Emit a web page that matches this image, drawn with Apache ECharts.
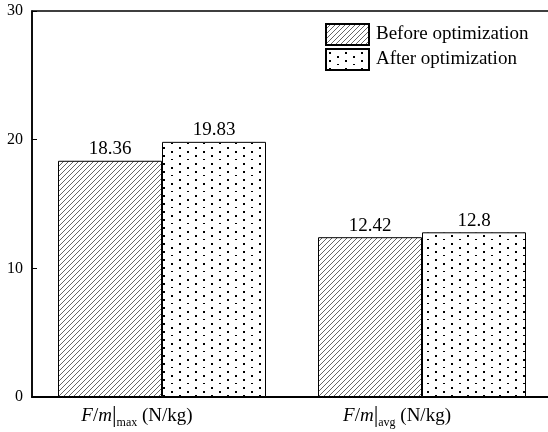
<!DOCTYPE html>
<html>
<head>
<meta charset="utf-8">
<script src="https://cdn.jsdelivr.net/npm/echarts@6/dist/echarts.min.js"></script>
<style>
  html, body { margin: 0; padding: 0; background: #fff; }
  #chart { width: 548px; height: 432px; }
</style>
</head>
<body>
<div id="chart"></div>
<script>
// Specific force per unit mass, before and after optimization
const categories = ['max', 'avg'];
const seriesNames = ['Before optimization', 'After optimization'];
const beforeValues = [18.36, 12.42];
const afterValues = [19.83, 12.8];
const yTicks = [0, 10, 20, 30];

const SERIF = '"Liberation Serif", "Times New Roman", serif';

// Diagonal hatch fill ("///")
function hatchPattern() {
  const s = 5;
  const c = document.createElement('canvas');
  c.width = s; c.height = s;
  const g = c.getContext('2d');
  g.fillStyle = '#fff';
  g.fillRect(0, 0, s, s);
  g.strokeStyle = '#666';
  g.lineWidth = 1;
  g.beginPath();
  g.moveTo(-1, s + 1); g.lineTo(s + 1, -1);
  g.moveTo(-1, 1); g.lineTo(1, -1);
  g.moveTo(s - 1, s + 1); g.lineTo(s + 1, s - 1);
  g.stroke();
  return c;
}

// Staggered dot fill
function dotPattern() {
  const c = document.createElement('canvas');
  c.width = 16; c.height = 16;
  const g = c.getContext('2d');
  g.fillStyle = '#fff';
  g.fillRect(0, 0, 16, 16);
  g.fillStyle = '#000';
  [[3, 3], [3, 11], [11, 7], [11, 15]].forEach(([x, y]) => g.fillRect(x, y, 2, 2));
  return c;
}

const chart = echarts.init(document.getElementById('chart'), null, { renderer: 'canvas' });

const labelStyle = {
  show: true,
  position: 'top',
  distance: 2,
  color: '#000',
  fontFamily: SERIF,
  fontSize: 19
};

chart.setOption({
  animation: false,
  backgroundColor: '#fff',
  grid: {
    left: 32, top: 11, width: 520, height: 386,
    outerBoundsMode: 'none', containLabel: false,
    show: true, borderColor: '#000', borderWidth: 1.5, backgroundColor: 'transparent'
  },
  legend: {
    data: seriesNames,
    orient: 'vertical',
    left: 325,
    top: 23,
    padding: 0,
    itemWidth: 43,
    itemHeight: 21,
    itemGap: 2,
    icon: 'rect',
    textStyle: { fontFamily: SERIF, fontSize: 19, color: '#000', padding: [0, 0, 0, 2] }
  },
  xAxis: {
    type: 'category',
    data: categories,
    axisLine: { lineStyle: { color: '#000', width: 2 } },
    axisTick: { show: false },
    axisLabel: {
      interval: 0,
      margin: 6,
      padding: [0, 50, 0, 0],
      formatter: v => '{i|F}{n|/}{i|m}{bar||}{sub|' + v + '}{n| (N/kg)}',
      rich: {
        i: { fontFamily: SERIF, fontStyle: 'italic', fontSize: 19, color: '#000' },
        n: { fontFamily: SERIF, fontSize: 19, color: '#000' },
        bar: { fontFamily: SERIF, fontSize: 23, color: '#000' },
        sub: { fontFamily: SERIF, fontSize: 12, color: '#000', padding: [14, 0, 0, 0] }
      }
    }
  },
  yAxis: {
    type: 'value',
    min: yTicks[0],
    max: yTicks[yTicks.length - 1],
    interval: yTicks[1] - yTicks[0],
    splitLine: { show: false },
    axisLine: { show: true, lineStyle: { color: '#000', width: 1.5 } },
    axisTick: { show: true, inside: true, length: 5, lineStyle: { color: '#000', width: 1 } },
    axisLabel: { margin: 9, fontFamily: SERIF, fontSize: 16, color: '#000' }
  },
  series: [
    {
      name: seriesNames[0],
      type: 'bar',
      data: beforeValues,
      barWidth: '40%',
      barGap: '0%',
      itemStyle: { color: { image: hatchPattern(), repeat: 'repeat' }, borderColor: '#000', borderWidth: 1 },
      label: labelStyle
    },
    {
      name: seriesNames[1],
      type: 'bar',
      data: afterValues,
      barWidth: '40%',
      itemStyle: { color: { image: dotPattern(), repeat: 'repeat' }, borderColor: '#000', borderWidth: 1 },
      label: labelStyle
    }
  ]
});
</script>
</body>
</html>
